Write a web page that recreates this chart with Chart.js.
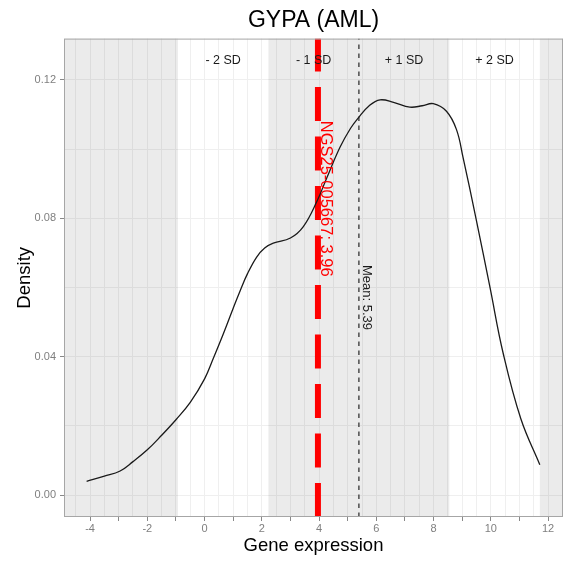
<!DOCTYPE html>
<html>
<head>
<meta charset="utf-8">
<script src="https://cdn.jsdelivr.net/npm/chart.js@4/dist/chart.umd.min.js"></script>
<style>
  html, body { margin: 0; padding: 0; background: #fff; }
  #wrap { width: 569px; height: 563px; }
</style>
</head>
<body>
<div id="wrap"><canvas id="densityChart" width="569" height="563"></canvas></div>
<script>
// density curve
const exprValues = [-4.12, -3.5, -2.95, -2.5, -2.0, -1.5, -1.0, -0.5, 0.0, 0.3, 0.66, 1.0, 1.24, 1.5, 1.82, 2.1, 2.4, 3.0, 3.45, 3.93, 4.26, 4.73, 5.1, 5.37, 5.75, 6.13, 6.6, 7.17, 7.6, 7.99, 8.45, 8.8, 9.03, 9.48, 9.97, 10.43, 11.05, 11.71];
const densityValues = [0.0040, 0.0055, 0.0070, 0.0097, 0.0131, 0.0173, 0.0218, 0.0268, 0.0336, 0.0394, 0.0467, 0.0540, 0.0590, 0.0640, 0.0688, 0.0714, 0.0728, 0.0743, 0.0776, 0.0850, 0.0915, 0.1005, 0.1060, 0.1090, 0.1125, 0.1142, 0.1135, 0.1121, 0.1125, 0.1131, 0.1109, 0.1056, 0.0975, 0.0800, 0.0600, 0.0410, 0.0220, 0.0088];

const sampleName = 'NGS25-005667';
const sampleValue = 3.96;
const meanValue = 5.39;
const sdValue = 3.16;
const sdLabels = ['- 2 SD', '- 1 SD', '+ 1 SD', '+ 2 SD'];

const xTickLabels = [-4, -2, 0, 2, 4, 6, 8, 10, 12];
const yTickLabels = [0, 0.04, 0.08, 0.12];

const xMin = -4.91, xMax = 12.52;
const yMin = -0.0063, yMax = 0.1319;
const sdLabelY = 0.1256;

const FONT = '"Liberation Sans", Arial, Helvetica, sans-serif';
const peakDensity = Math.max(...densityValues);

// grey bands outside +-2 SD and inside +-1 SD
const bands = [
  [xMin, meanValue - 2 * sdValue],
  [meanValue - sdValue, meanValue + sdValue],
  [meanValue + 2 * sdValue, xMax]
];

const bandPlugin = {
  id: 'bands',
  beforeDatasetsDraw(chart) {
    const { ctx, chartArea, scales } = chart;
    ctx.save();
    ctx.fillStyle = 'rgba(0,0,0,0.08)';
    bands.forEach(([a, b]) => {
      const x1 = scales.x.getPixelForValue(a);
      const x2 = scales.x.getPixelForValue(b);
      ctx.fillRect(x1, chartArea.top, x2 - x1, chartArea.bottom - chartArea.top);
    });
    ctx.restore();
  },
  afterDatasetsDraw(chart) {
    const { ctx, chartArea, scales } = chart;
    const x = scales.x, y = scales.y;
    ctx.save();

    // SD labels centred in each band
    const edges = [-2, -1, 0, 1, 2].map(k => meanValue + k * sdValue);
    ctx.fillStyle = '#1a1a1a';
    ctx.font = '12.5px ' + FONT;
    ctx.textAlign = 'center';
    ctx.textBaseline = 'middle';
    sdLabels.forEach((lab, i) => {
      const cx = x.getPixelForValue((edges[i] + edges[i + 1]) / 2);
      ctx.fillText(lab, cx, y.getPixelForValue(sdLabelY));
    });

    // rotated labels next to the vertical lines
    const rotText = (txt, xv, yv, size, color, off) => {
      ctx.save();
      ctx.translate(x.getPixelForValue(xv) + off, y.getPixelForValue(yv));
      ctx.rotate(Math.PI / 2);
      ctx.font = size + 'px ' + FONT;
      ctx.fillStyle = color;
      ctx.textAlign = 'center';
      ctx.textBaseline = 'middle';
      ctx.fillText(txt, 0, 0);
      ctx.restore();
    };
    rotText(sampleName + ': ' + sampleValue.toFixed(2), sampleValue, peakDensity * 0.75, 16.5, '#ff0000', 8);
    rotText('Mean: ' + meanValue.toFixed(2), meanValue, peakDensity * 0.5, 13, '#1a1a1a', 7.5);

    // panel border
    ctx.strokeStyle = '#a6a6a6';
    ctx.lineWidth = 1;
    ctx.strokeRect(chartArea.left + 0.5, chartArea.top + 0.5,
      chartArea.right - chartArea.left - 1, chartArea.bottom - chartArea.top - 1);
    ctx.restore();
  }
};

const isInt = v => Math.abs(v - Math.round(v)) < 1e-9;
const isYMajor = v => Math.abs(v * 100 - Math.round(v * 100)) < 1e-6 && Math.round(v * 100) % 4 === 0;

new Chart(document.getElementById('densityChart').getContext('2d'), {
  type: 'line',
  data: {
    datasets: [
      {
        data: exprValues.map((v, i) => ({ x: v, y: densityValues[i] })),
        borderColor: '#1a1a1a',
        borderWidth: 1.3,
        pointRadius: 0,
        tension: 0.4,
        fill: false
      },
      {
        data: [{ x: sampleValue, y: yMin }, { x: sampleValue, y: yMax }],
        borderColor: '#ff0000',
        borderWidth: 6,
        borderDash: [34, 15.5],
        borderCapStyle: 'butt',
        pointRadius: 0
      },
      {
        data: [{ x: meanValue, y: yMin }, { x: meanValue, y: yMax }],
        borderColor: '#555555',
        borderWidth: 1.6,
        borderDash: [4.5, 4.5],
        pointRadius: 0
      }
    ]
  },
  options: {
    responsive: false,
    animation: false,
    layout: { padding: { left: 0, right: 6, top: 0, bottom: 0 } },
    plugins: {
      legend: { display: false },
      tooltip: { enabled: false },
      title: {
        display: true,
        text: 'GYPA (AML)',
        fullSize: false,
        color: '#000',
        font: { family: FONT, size: 23, weight: 'normal', lineHeight: 1.2 },
        padding: { top: 7, bottom: 4 }
      }
    },
    scales: {
      x: {
        type: 'linear',
        min: xMin,
        max: xMax,
        afterBuildTicks(scale) {
          const t = [];
          for (let v = -4.5; v <= 12.5; v += 0.5) t.push({ value: v });
          scale.ticks = t;
        },
        afterFit(scale) { scale.height = 46; },
        grid: {
          color: '#efefef',
          lineWidth: 1,
          drawTicks: true,
          tickLength: 4,
          tickColor: c => isInt(c.tick.value) ? '#888' : 'rgba(0,0,0,0)'
        },
        border: { display: false },
        ticks: {
          autoSkip: false,
          maxRotation: 0,
          padding: 1,
          color: '#7f7f7f',
          font: { family: FONT, size: 11 },
          callback: v => xTickLabels.some(t => Math.abs(t - v) < 1e-9) ? String(v) : ''
        },
        title: {
          display: true,
          text: 'Gene expression',
          color: '#000',
          font: { family: FONT, size: 18.5 },
          padding: { top: 0, bottom: 6 }
        }
      },
      y: {
        type: 'linear',
        min: yMin,
        max: yMax,
        afterBuildTicks(scale) {
          const t = [];
          for (let k = 0; k <= 6; k++) t.push({ value: k * 0.02 });
          scale.ticks = t;
        },
        afterFit(scale) { scale.width = 64; },
        grid: {
          color: '#efefef',
          lineWidth: 1,
          drawTicks: true,
          tickLength: 4,
          tickColor: c => isYMajor(c.tick.value) ? '#888' : 'rgba(0,0,0,0)'
        },
        border: { display: false },
        ticks: {
          autoSkip: false,
          padding: 4,
          color: '#7f7f7f',
          font: { family: FONT, size: 11 },
          callback: v => yTickLabels.some(t => Math.abs(t - v) < 1e-9) ? v.toFixed(2) : ''
        },
        title: {
          display: true,
          text: 'Density',
          color: '#000',
          font: { family: FONT, size: 18.5 },
          padding: { top: 14, bottom: 0 }
        }
      }
    }
  },
  plugins: [bandPlugin]
});
</script>
</body>
</html>
